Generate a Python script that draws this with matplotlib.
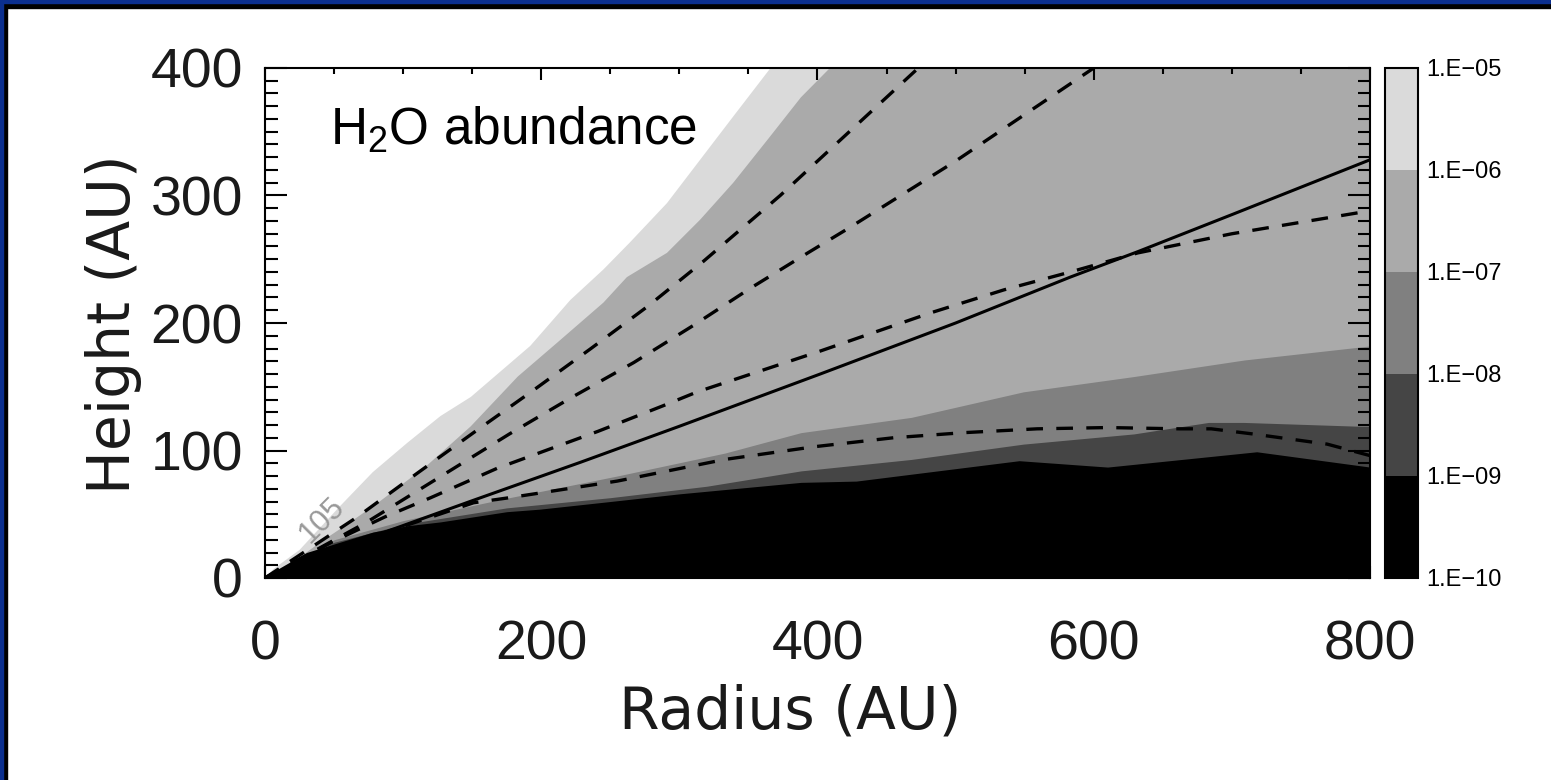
import numpy as np
import matplotlib.pyplot as plt
from matplotlib.colors import ListedColormap, BoundaryNorm
from matplotlib.cm import ScalarMappable
from matplotlib.patches import Rectangle

plt.rcParams['font.family'] = ['Liberation Sans', 'DejaVu Sans']
plt.rcParams['mathtext.fontset'] = 'custom'
plt.rcParams['mathtext.rm'] = 'Liberation Sans'

# abundance contour boundaries: radius (AU) -> height (AU); beyond the top they leave the frame
r_1e5 = [0, 6, 25, 54, 78, 103, 127, 149, 192, 221, 245, 264, 291, 315, 339, 366, 420, 800]
z_1e5 = [0, 7, 22, 56, 83, 106, 127, 142, 182, 218, 242, 263, 294, 328, 362, 400, 460, 900]
r_1e6 = [0, 20, 40, 62, 83, 117, 149, 183, 212, 245, 262, 291, 315, 339, 364, 388, 409, 460, 800]
z_1e6 = [0, 12, 28, 44, 60, 88, 119, 158, 185, 216, 236, 255, 281, 310, 344, 377, 400, 450, 900]
r_1e7 = [0, 50, 100, 151, 177, 255, 333, 388, 468, 549, 629, 709, 800]
z_1e7 = [0, 30, 45, 57, 63, 80, 98, 114, 126, 146, 158, 171, 182]
r_1e8 = [0, 50, 100, 175, 250, 320, 388, 468, 549, 629, 683, 709, 793, 800]
z_1e8 = [0, 28, 42, 55, 63, 72, 84, 93, 105, 113, 122, 122, 119, 119]
r_1e9 = [0, 6, 30, 54, 78, 103, 127, 151, 175, 199, 250, 300, 388, 428, 546, 610, 718, 800]
z_1e9 = [0, 5, 20, 28, 36, 41, 44, 48, 52, 54, 60, 66, 75, 76, 92, 87, 99, 87]

# overplotted lines
r_solid = [0, 74, 151, 229, 300, 402, 500, 583, 632, 700, 800]
z_solid = [0, 31, 61, 91, 119, 160, 200, 236, 256, 285, 328]
r_d1 = [0, 67, 110, 151, 194, 236, 277, 317, 373, 417, 473]
z_d1 = [0, 48, 82, 114, 147, 180, 213, 248, 300, 344, 400]
r_d2 = [0, 74, 177, 221, 267, 310, 351, 393, 422, 500, 600]
z_d2 = [0, 44, 113, 141, 169, 198, 227, 255, 274, 327, 400]
r_d3 = [0, 50, 87, 120, 168, 241, 288, 313, 402, 482, 535, 583, 632, 700, 800]
z_d3 = [0, 29, 48, 63, 86, 115, 135, 146, 178, 208, 226, 240, 255, 270, 288]
r_d4 = [0, 74, 151, 177, 255, 333, 398, 455, 506, 559, 610, 662, 685, 715, 769, 800]
z_d4 = [0, 31, 59, 63, 76, 93, 103, 110, 114, 117, 118, 117, 117, 113, 105, 96]

levels = [1e-10, 1e-9, 1e-8, 1e-7, 1e-6, 1e-5]
level_labels = ['1.E\u221210', '1.E\u221209', '1.E\u221208', '1.E\u221207', '1.E\u221206', '1.E\u221205']
band_colors = ['#000000', '#454545', '#808080', '#aaaaaa', '#dadada']

fig = plt.figure(figsize=(15.51, 7.80), dpi=100)
ax = fig.add_axes([265/1551, 1-578/780, 1105/1551, 510/780])

# stack from top band down
ax.fill_between(r_1e5, 0, z_1e5, color=band_colors[4], lw=0)
ax.fill_between(r_1e6, 0, z_1e6, color=band_colors[3], lw=0)
ax.fill_between(r_1e7, 0, z_1e7, color=band_colors[2], lw=0)
ax.fill_between(r_1e8, 0, z_1e8, color=band_colors[1], lw=0)
ax.fill_between(r_1e9, 0, z_1e9, color=band_colors[0], lw=0)

ax.plot(r_solid, z_solid, color='k', lw=2.2)
for rr, zz in [(r_d1, z_d1), (r_d2, z_d2), (r_d3, z_d3), (r_d4, z_d4)]:
    ax.plot(rr, zz, color='k', lw=2.4, dashes=(5, 4))

ax.text(41, 45, '105', color='#999999', fontsize=22, rotation=45,
        ha='center', va='center')
ax.text(47, 340, r'H$_{\rm 2}$O abundance', fontsize=37, color='k')

ax.set_xlim(0, 800)
ax.set_ylim(0, 400)
ax.set_xticks([0, 200, 400, 600, 800])
ax.set_xticks(np.arange(0, 801, 50), minor=True)
ax.set_yticks([0, 100, 200, 300, 400])
ax.set_yticks(np.arange(0, 401, 10), minor=True)
ax.tick_params(which='both', direction='in', top=True, right=True, width=1.5, colors='k')
ax.tick_params(axis='x', which='major', length=8.6, pad=30, labelsize=40, labelcolor='#1a1a1a')
ax.tick_params(axis='x', which='minor', length=4.5)
ax.tick_params(axis='y', which='major', length=16, pad=16, labelsize=40, labelcolor='#1a1a1a')
ax.tick_params(axis='y', which='minor', length=9)
for sp in ax.spines.values():
    sp.set_linewidth(1.5)
    sp.set_zorder(5)

fig.text(790/1551, 0.087, 'Radius (AU)', fontsize=42, ha='center', va='center',
         family='DejaVu Sans', color='#1a1a1a')
fig.text(0.073, 0.585, 'Height (AU)', fontsize=42, ha='center', va='center', rotation=90,
         family='DejaVu Sans', color='#1a1a1a')

# colorbar
cax = fig.add_axes([1385/1551, 1-578/780, 33/1551, 510/780])
sm = ScalarMappable(norm=BoundaryNorm(levels, len(band_colors)), cmap=ListedColormap(band_colors))
cb = fig.colorbar(sm, cax=cax, ticks=levels)
cb.set_ticklabels(level_labels)
cb.ax.tick_params(length=0, labelsize=17, pad=6)
cb.outline.set_linewidth(1.5)

# slide frame
fig.patches.append(Rectangle((0, 1-3/780), 1, 3/780, transform=fig.transFigure, color='#0b2f8f', zorder=10))
fig.patches.append(Rectangle((0, 1-8/780), 1, 5/780, transform=fig.transFigure, color='k', zorder=9))
fig.patches.append(Rectangle((0, 0), 3/1551, 1, transform=fig.transFigure, color='#0b2f8f', zorder=10))
fig.patches.append(Rectangle((3/1551, 0), 4/1551, 1-3/780, transform=fig.transFigure, color='k', zorder=9))

fig.savefig('out.png', dpi=100)
